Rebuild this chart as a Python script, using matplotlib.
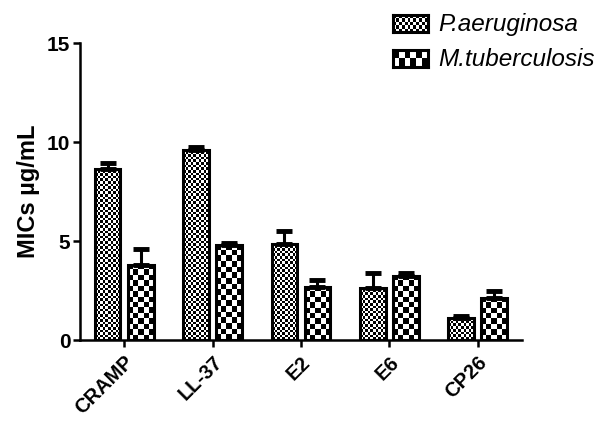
import matplotlib
matplotlib.use("Agg")
import matplotlib.pyplot as plt
import numpy as np

plt.rcParams["font.family"] = ["Liberation Sans", "DejaVu Sans"]

peptides = ["CRAMP", "LL-37", "E2", "E6", "CP26"]
series_names = ["P.aeruginosa", "M.tuberculosis"]
pa_mic = [8.65, 9.6, 4.85, 2.65, 1.1]
pa_err = [0.3, 0.15, 0.65, 0.75, 0.12]
mtb_mic = [3.8, 4.8, 2.7, 3.25, 2.15]
mtb_err = [0.8, 0.12, 0.32, 0.12, 0.32]
y_ticks = [0, 5, 10, 15]

# checker cell size in pixels for each series
cell_px = [2.6, 5.5]

fig = plt.figure(figsize=(5.97, 4.22), dpi=100)
ax = fig.add_axes([0.134, 0.194, 0.740, 0.704])

x = np.arange(len(peptides))
width = 0.29
offset = 0.187
lw = 2.2


def checker(nx, ny):
    i, j = np.meshgrid(np.arange(nx), np.arange(ny))
    return (i + j) % 2


def fill_checker(bar, cell):
    x0, y0 = bar.get_x(), bar.get_y()
    x1, y1 = x0 + bar.get_width(), y0 + bar.get_height()
    p0 = ax.transData.transform((x0, y0))
    p1 = ax.transData.transform((x1, y1))
    nx = max(1, int(round((p1[0] - p0[0]) / cell)))
    ny = max(1, int(round((p1[1] - p0[1]) / cell)))
    img = ax.imshow(
        checker(nx, ny),
        cmap="gray",
        interpolation="nearest",
        extent=(x0, x1, y0, y1),
        aspect="auto",
        zorder=1,
    )
    img.set_clip_path(bar)


ax.set_xlim(-0.5, 4.5)
ax.set_ylim(0, 15)

series = [(pa_mic, pa_err, -offset), (mtb_mic, mtb_err, offset)]
for k, (vals, errs, off) in enumerate(series):
    bars = ax.bar(
        x + off,
        vals,
        width,
        facecolor="none",
        edgecolor="black",
        linewidth=lw,
        zorder=2,
    )
    for b in bars:
        fill_checker(b, cell_px[k])
    ax.errorbar(
        x + off,
        vals,
        yerr=[np.zeros(len(vals)), errs],
        fmt="none",
        ecolor="black",
        elinewidth=lw,
        capsize=6,
        capthick=lw * 1.6,
        zorder=3,
    )

ax.set_xlim(-0.5, 4.5)
ax.set_ylim(0, 15)

for side in ["top", "right"]:
    ax.spines[side].set_visible(False)
for side in ["left", "bottom"]:
    ax.spines[side].set_linewidth(1.8)

ax.set_yticks(y_ticks)
ax.set_yticklabels([str(t) for t in y_ticks], fontsize=15, fontweight="bold")
ax.set_xticks(x)
ax.set_xticklabels(
    peptides,
    fontsize=14.5,
    fontweight="bold",
    rotation=45,
    ha="right",
    rotation_mode="anchor",
)
ax.tick_params(axis="both", width=1.8, length=5, direction="out")
ax.tick_params(axis="y", pad=2)
ax.tick_params(axis="x", pad=4)
ax.set_ylabel("MICs µg/mL", fontsize=17, fontweight="bold", labelpad=5)

# legend drawn by hand so the swatches keep the checker fill
W, H = 597, 422
legend_rows = [(15, series_names[0], cell_px[0]), (50, series_names[1], cell_px[1])]
for top, name, cell in legend_rows:
    sw = fig.add_axes([393 / W, 1 - (top + 17) / H, 35 / W, 17 / H])
    nx = int(round(31 / cell))
    ny = int(round(13 / cell))
    sw.imshow(checker(nx, ny), cmap="gray", interpolation="nearest", aspect="auto")
    sw.set_xticks([])
    sw.set_yticks([])
    for s in sw.spines.values():
        s.set_linewidth(2.2)
    fig.text(
        438 / W,
        1 - (top + 9) / H,
        name,
        fontsize=17.5,
        fontstyle="italic",
        va="center",
        ha="left",
    )

fig.savefig("out.png", dpi=100)
